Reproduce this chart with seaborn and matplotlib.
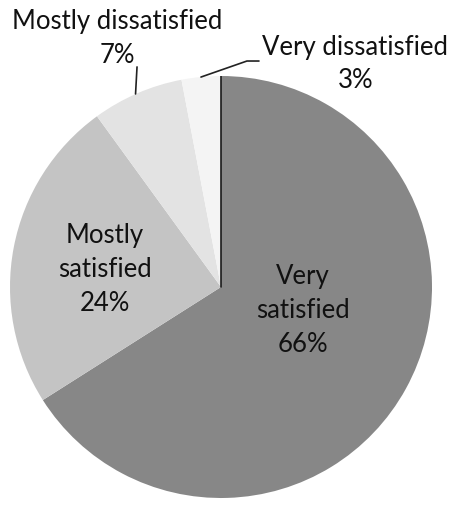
import matplotlib
matplotlib.use("Agg")
import matplotlib.pyplot as plt
import seaborn as sns

# Satisfaction survey shares (percent), clockwise from 12 o'clock
categories = ["Very satisfied", "Mostly satisfied", "Mostly dissatisfied", "Very dissatisfied"]
shares = [66, 24, 7, 3]
label_texts = ["Very\nsatisfied\n66%", "Mostly\nsatisfied\n24%",
               "Mostly dissatisfied\n7%", "Very dissatisfied\n3%"]

sns.set_theme(style="white")
plt.rcParams['font.family'] = ['Lato', 'DejaVu Sans']

grays = ["#878787", "#c4c4c4", "#e3e3e3", "#f4f4f4"]

fig = plt.figure(figsize=(4.53, 5.06), dpi=100)
# pie centre ~ (221, 288) px, radius ~ 211 px
ax = fig.add_axes([10 / 453, 7 / 506, 422 / 453, 422 / 506])

wedges, _ = ax.pie(shares, colors=grays, startangle=90, counterclock=False,
                   radius=1.0, wedgeprops=dict(linewidth=0))

ax.set_xlim(-1, 1)
ax.set_ylim(-1, 1)
ax.set_aspect("equal")
ax.axis("off")

# dark seam between the first and last slice
ax.plot([0, 0], [0, 1], color="#1a1a1a", lw=1.2)

fs = 18.5
ax.text(0.39, -0.105, label_texts[0], ha="center", va="center", fontsize=fs,
        color="#111111", linespacing=1.45)
ax.text(-0.55, 0.09, label_texts[1], ha="center", va="center", fontsize=fs,
        color="#111111", linespacing=1.45)
ax.text(-0.49, 1.182, label_texts[2], ha="center", va="center", fontsize=fs,
        color="#111111", linespacing=1.42, clip_on=False)
ax.text(0.637, 1.062, label_texts[3], ha="center", va="center", fontsize=fs,
        color="#111111", linespacing=1.42, clip_on=False)

# leader lines
ax.plot([-0.398, -0.405], [1.043, 0.915], color="#222222", lw=1.2, clip_on=False)
ax.plot([0.18, 0.123, -0.095], [1.071, 1.071, 0.995], color="#222222", lw=1.2,
        clip_on=False)

fig.savefig("out.png", dpi=100)
